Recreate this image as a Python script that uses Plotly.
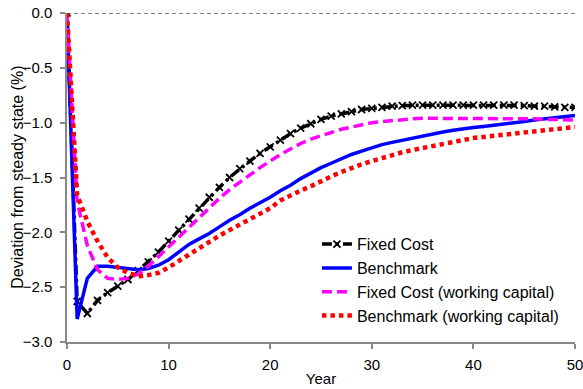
import plotly.graph_objects as go

years = list(range(0, 51))

fixed_cost = [0, -2.63, -2.74, -2.62, -2.55, -2.49, -2.43, -2.35, -2.27, -2.18,
              -2.08, -1.98, -1.88, -1.78, -1.68, -1.59, -1.50, -1.42, -1.35, -1.28,
              -1.22, -1.16, -1.10, -1.05, -1.01, -0.97, -0.94, -0.92, -0.90, -0.88,
              -0.87, -0.86, -0.85, -0.845, -0.84, -0.84, -0.84, -0.84, -0.84, -0.84,
              -0.84, -0.84, -0.84, -0.84, -0.84, -0.845, -0.85, -0.85, -0.855, -0.86,
              -0.86]

benchmark = [0, -2.79, -2.42, -2.31, -2.31, -2.32, -2.33, -2.34, -2.33, -2.30,
             -2.25, -2.18, -2.11, -2.06, -2.01, -1.95, -1.89, -1.84, -1.78, -1.73,
             -1.68, -1.62, -1.57, -1.51, -1.46, -1.41, -1.37, -1.33, -1.29, -1.26,
             -1.23, -1.20, -1.18, -1.16, -1.14, -1.12, -1.10, -1.085, -1.07, -1.055,
             -1.045, -1.035, -1.025, -1.01, -1.00, -0.99, -0.975, -0.965, -0.955, -0.945,
             -0.935]

fixed_cost_wc = [0, -1.72, -2.12, -2.34, -2.42, -2.43, -2.42, -2.38, -2.31, -2.22,
                 -2.13, -2.04, -1.95, -1.86, -1.77, -1.69, -1.61, -1.54, -1.47, -1.41,
                 -1.35, -1.29, -1.24, -1.19, -1.15, -1.12, -1.09, -1.06, -1.04, -1.02,
                 -1.00, -0.99, -0.98, -0.97, -0.965, -0.96, -0.96, -0.96, -0.96, -0.96,
                 -0.96, -0.96, -0.96, -0.96, -0.96, -0.96, -0.965, -0.97, -0.97, -0.975,
                 -0.975]

benchmark_wc = [0, -1.66, -1.90, -2.08, -2.23, -2.32, -2.37, -2.40, -2.39, -2.37,
                -2.32, -2.26, -2.20, -2.14, -2.09, -2.03, -1.98, -1.93, -1.88, -1.83,
                -1.78, -1.71, -1.66, -1.62, -1.58, -1.53, -1.49, -1.45, -1.41, -1.38,
                -1.35, -1.32, -1.30, -1.27, -1.25, -1.23, -1.21, -1.19, -1.17, -1.16,
                -1.14, -1.13, -1.12, -1.10, -1.09, -1.08, -1.07, -1.06, -1.055, -1.045,
                -1.04]

y_ticks = [0.0, -0.5, -1.0, -1.5, -2.0, -2.5, -3.0]
x_ticks = [0, 10, 20, 30, 40, 50]

font = "Arial, Liberation Sans, sans-serif"

fig = go.Figure()

fig.add_hline(y=0, line=dict(color="black", width=1.2, dash="4px,3px"), layer="below")

fig.add_trace(go.Scatter(
    x=years, y=fixed_cost, name="Fixed Cost", mode="lines+markers",
    line=dict(color="black", width=3.5, dash="10px,4px,3px,4px"),
    marker=dict(symbol="x-thin-open", size=7, color="black",
                line=dict(color="black", width=1.8)),
))
fig.add_trace(go.Scatter(
    x=years, y=benchmark, name="Benchmark", mode="lines",
    line=dict(color="#0000FF", width=3.5),
))
fig.add_trace(go.Scatter(
    x=years, y=fixed_cost_wc, name="Fixed Cost (working capital)", mode="lines",
    line=dict(color="#FF00FF", width=3.5, dash="10px,5px"),
))
fig.add_trace(go.Scatter(
    x=years, y=benchmark_wc, name="Benchmark (working capital)", mode="lines",
    line=dict(color="#FF0000", width=4.5, dash="4.5px,4px"),
))

axis_common = dict(
    showgrid=False, zeroline=False, showline=True, linecolor="#888888", linewidth=1.5,
    ticks="outside", tickcolor="#888888", ticklen=5, tickwidth=1.5,
    tickfont=dict(family=font, size=15, color="black"), automargin=False,
    ticklabeloverflow="allow",
)

fig.update_layout(
    width=583, height=389,
    margin=dict(l=67, r=8, t=13, b=47),
    paper_bgcolor="white", plot_bgcolor="white",
    font=dict(family=font, size=15, color="black"),
    showlegend=True,
    legend=dict(x=0.492, y=0.349, xanchor="left", yanchor="top",
                bgcolor="rgba(255,255,255,0)", font=dict(family=font, size=16),
                itemwidth=30, tracegroupgap=0),
    xaxis=dict(range=[0, 50], tickvals=x_ticks, ticklabelstandoff=3, **axis_common,
               title=dict(text="Year", font=dict(family=font, size=15), standoff=2)),
    yaxis=dict(range=[-3, 0], tickvals=y_ticks, tickformat=".1f", ticklabelstandoff=5,
               **axis_common),
    annotations=[dict(text="Deviation from steady state (%)", xref="paper", yref="paper",
                      x=-0.098, y=0.5, xanchor="center", yanchor="middle",
                      textangle=-90, showarrow=False,
                      font=dict(family=font, size=16, color="black"))],
)

fig.write_html("out.html")
